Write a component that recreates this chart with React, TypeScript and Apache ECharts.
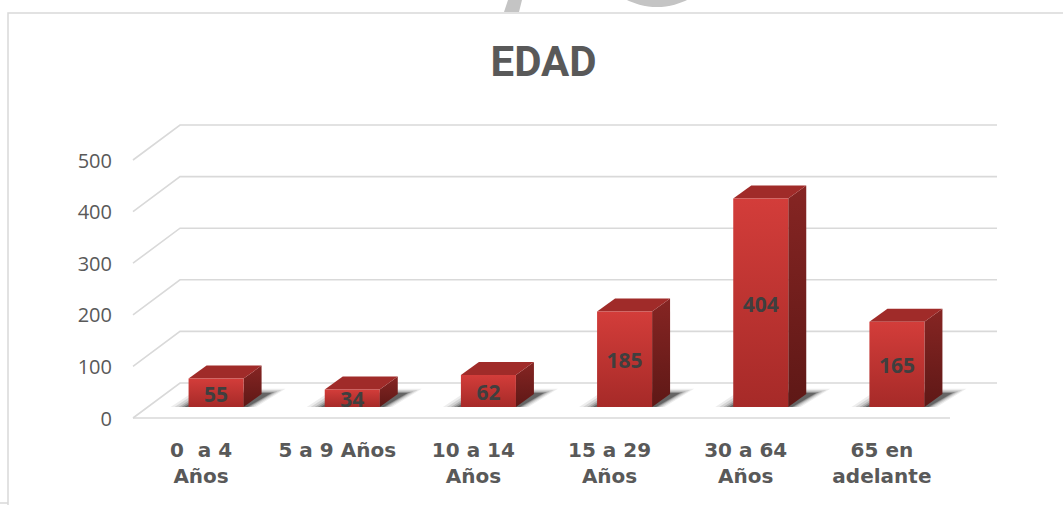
import React, { useEffect, useRef } from "react";
import * as echarts from "echarts";

const CATEGORIES = ["0  a 4\nAños", "5 a 9 Años", "10 a 14\nAños", "15 a 29\nAños", "30 a 64\nAños", "65 en\nadelante"];
const VALUES = [55, 34, 62, 185, 404, 165];
const Y_TICKS = [0, 100, 200, 300, 400, 500];
const TITLE = "EDAD";

// 3D layout constants (pixels)
const FLOOR_DX = 47;
const FLOOR_DY = -35;
const BAR_OX = 15;
const BAR_OY = -11;
const BAR_DX = 18;
const BAR_DY = -13;
const BAR_FRAC = 0.404;

export default function App() {
  const ref = useRef<HTMLDivElement>(null);
  useEffect(() => {
    if (!ref.current) return;
    const chart = echarts.init(ref.current, null, { renderer: "svg" });
    const option: any = {
      animation: false,
      backgroundColor: "#ffffff",
      grid: { left: 133, right: 113, top: 160, bottom: 87 },
      xAxis: {
        type: "category",
        data: CATEGORIES,
        boundaryGap: true,
        axisLine: { show: false },
        axisTick: { show: false },
        splitLine: { show: false },
        axisLabel: {
          interval: 0,
          margin: 19,
          fontFamily: "DejaVu Sans",
          fontWeight: "bold",
          fontSize: 20,
          lineHeight: 26,
          color: "#595959",
          align: "center",
        },
      },
      yAxis: {
        type: "value",
        min: 0,
        max: 500,
        interval: 100,
        axisLine: { show: false },
        axisTick: { show: false },
        splitLine: { show: false },
        axisLabel: {
          margin: 21,
          fontFamily: "Open Sans",
          fontSize: 20,
          color: "#595959",
        },
      },
      graphic: [
        {
          type: "polyline",
          shape: { points: [[8, 505], [8, 13], [1063, 13]] },
          style: { stroke: "#d9d9d9", lineWidth: 1.5, fill: "none" },
          silent: true,
        },
        {
          type: "line",
          shape: { x1: 0, y1: 503, x2: 8, y2: 503 },
          style: { stroke: "#d9d9d9", lineWidth: 1.5 },
          silent: true,
        },
        {
          type: "polygon",
          shape: { points: [[508, 0], [522, 0], [519, 12], [504, 12]] },
          style: { fill: "#c4c4c4" },
          silent: true,
        },
        {
          type: "circle",
          shape: { cx: 657, cy: -61, r: 68 },
          style: { fill: "#c4c4c4" },
          silent: true,
        },
        {
          type: "text",
          x: 543.5,
          y: 61,
          style: {
            text: TITLE,
            fill: "#595959",
            font: "bold 42px Roboto",
            textAlign: "center",
            textVerticalAlign: "middle",
          },
          silent: true,
        },
      ],
      series: [
        {
          type: "custom",
          name: "grid",
          silent: true,
          data: Y_TICKS.map((v) => [0, v]),
          renderItem: (params: any, api: any) => {
            const cs = params.coordSys;
            const v = api.value(1);
            const y = api.coord([0, v])[1];
            const x = cs.x;
            const children: any[] = [
              {
                type: "polyline",
                shape: {
                  points: [
                    [x, y],
                    [x + FLOOR_DX, y + FLOOR_DY],
                    [x + FLOOR_DX + cs.width, y + FLOOR_DY],
                  ],
                },
                style: { stroke: "#d9d9d9", lineWidth: 1.6, fill: "none" },
              },
            ];
            if (v === 0) {
              children.push({
                type: "line",
                shape: { x1: x, y1: y, x2: x + cs.width, y2: y },
                style: { stroke: "#d9d9d9", lineWidth: 1.6 },
              });
            }
            return { type: "group", children };
          },
        },
        {
          type: "custom",
          name: "EDAD",
          data: VALUES.map((v, i) => [i, v]),
          renderItem: (params: any, api: any) => {
            const i = api.value(0);
            const v = api.value(1);
            const base = api.coord([i, 0]);
            const topP = api.coord([i, v]);
            const w = api.size([1, 0])[0] * BAR_FRAC;
            const cx = base[0] + BAR_OX;
            const L = cx - w / 2;
            const R = cx + w / 2;
            const B = base[1] + BAR_OY;
            const T = topP[1] + BAR_OY;
            const shadows: any[] = [];
            const layers = [
              { e: 14, a: 0.07 },
              { e: 10, a: 0.1 },
              { e: 6, a: 0.14 },
              { e: 3, a: 0.2 },
              { e: 0, a: 0.3 },
            ];
            layers.forEach((ly) => {
              const e = ly.e;
              shadows.push({
                type: "polygon",
                shape: {
                  points: [
                    [L - 4 - e, B],
                    [R + 4 + e * 0.6, B],
                    [R + BAR_DX + 10 + e, B + BAR_DY - 1 - e * 0.3],
                    [L + BAR_DX - e * 0.6, B + BAR_DY - 1 - e * 0.3],
                  ],
                },
                style: { fill: "rgba(0,0,0," + ly.a + ")" },
              });
            });
            return {
              type: "group",
              children: [
                ...shadows,
                {
                  type: "polygon",
                  shape: {
                    points: [
                      [R, T],
                      [R + BAR_DX, T + BAR_DY],
                      [R + BAR_DX, B + BAR_DY],
                      [R, B],
                    ],
                  },
                  style: {
                    fill: new echarts.graphic.LinearGradient(0, 0, 0, 1, [
                      { offset: 0, color: "#862523" },
                      { offset: 1, color: "#5e1816" },
                    ]),
                  },
                },
                {
                  type: "polygon",
                  shape: {
                    points: [
                      [L, T],
                      [R, T],
                      [R + BAR_DX, T + BAR_DY],
                      [L + BAR_DX, T + BAR_DY],
                    ],
                  },
                  style: { fill: "#a02b29" },
                },
                {
                  type: "rect",
                  shape: { x: L, y: T, width: R - L, height: B - T },
                  style: {
                    fill: new echarts.graphic.LinearGradient(0, 0, 0, 1, [
                      { offset: 0, color: "#d33d3a" },
                      { offset: 1, color: "#a62a28" },
                    ]),
                  },
                },
                {
                  type: "text",
                  x: cx,
                  y: (T + B) / 2 + 1,
                  style: {
                    text: String(v),
                    fill: "#3f3f3f",
                    font: "bold 21px 'Open Sans'",
                    textAlign: "center",
                    textVerticalAlign: "middle",
                  },
                },
              ],
            };
          },
        },
      ],
    };
    chart.setOption(option);
    return () => chart.dispose();
  }, []);
  return (
    <div
      ref={ref}
      style={{ position: "absolute", left: 0, top: 0, width: 1063, height: 505 }}
    />
  );
}
